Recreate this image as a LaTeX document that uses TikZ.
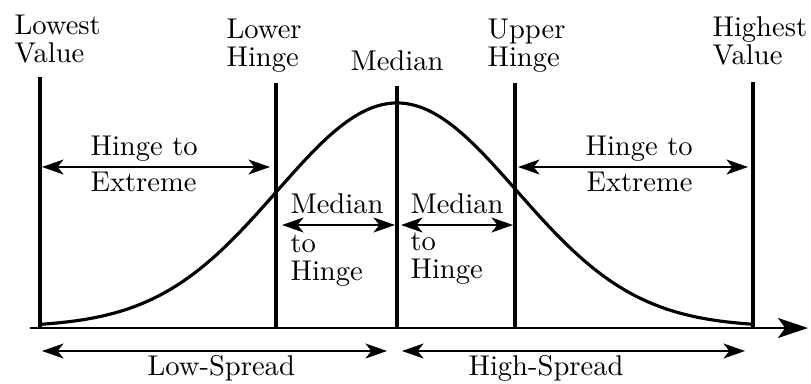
\documentclass[tikz,border=0pt]{standalone}
\usetikzlibrary{arrows.meta}
\begin{document}
\begin{tikzpicture}[x=0.35pt,y=-0.35pt,
  vline/.style={line width=1.1pt},
  curve/.style={line width=1.1pt},
  axisline/.style={line width=1.0pt,-{Stealth[length=10.5pt,width=7pt,inset=2.5pt]}},
  span/.style={line width=0.85pt,{Stealth[length=7.5pt,width=5.2pt,inset=2pt]}-{Stealth[length=7.5pt,width=5.2pt,inset=2pt]}},
  lbl/.style={inner sep=0pt,anchor=base west,align=left,font=\fontsize{10}{9.8}\selectfont}]
\useasboundingbox (0,0) rectangle (811,383);
% axis
\coordinate (axL) at (30,328);
\coordinate (axR) at (808,328);
\draw[axisline] (axL) -- (axR);
% vertical lines
\coordinate (lowT) at (40,77);   \coordinate (lowB) at (40,328);
\coordinate (lhT) at (276,83);   \coordinate (lhB) at (276,328);
\coordinate (medT) at (397,86);  \coordinate (medB) at (397,328);
\coordinate (uhT) at (515,83);   \coordinate (uhB) at (515,328);
\coordinate (highT) at (753,82); \coordinate (highB) at (753,328);
\draw[vline] (lowT) -- (lowB);
\draw[vline] (lhT) -- (lhB);
\draw[vline] (medT) -- (medB);
\draw[vline] (uhT) -- (uhB);
\draw[vline] (highT) -- (highB);
% bell curve
\draw[curve] plot[domain=40:753,samples=150,smooth] (\x,{327-224*exp(-0.5*((\x-397)/120)^2)});
% top labels (anchor at baseline of the last line)
\node[lbl] (lowest) at (14,63) {Lowest\\Value};
\node[lbl] (lower) at (226,67) {Lower\\Hinge};
\node[lbl] (median) at (350,71) {Median};
\node[lbl] (upper) at (487,67) {Upper\\Hinge};
\node[lbl] (highest) at (712,65) {Highest\\Value};
% hinge to extreme
\coordinate (heLa) at (42,167);  \coordinate (heLb) at (270,167);
\coordinate (heRa) at (518,167); \coordinate (heRb) at (748,167);
\draw[span] (heLa) -- (heLb);
\draw[span] (heRa) -- (heRb);
\node[lbl] (heL1) at (90,156) {Hinge to};
\node[lbl] (heL2) at (90,192) {Extreme};
\node[lbl] (heR1) at (585,156) {Hinge to};
\node[lbl] (heR2) at (586,192) {Extreme};
% median to hinge
\coordinate (mhLa) at (282,225); \coordinate (mhLb) at (395,225);
\coordinate (mhRa) at (401,225); \coordinate (mhRb) at (513,225);
\draw[span] (mhLa) -- (mhLb);
\draw[span] (mhRa) -- (mhRb);
\node[lbl] (mhL1) at (290,213) {Median};
\node[lbl] (mhL2) at (290,280) {to\\Hinge};
\node[lbl] (mhR1) at (410,213) {Median};
\node[lbl] (mhR2) at (410,278) {to\\Hinge};
% spreads
\coordinate (lsa) at (42,351);  \coordinate (lsb) at (387,351);
\coordinate (hsa) at (402,351); \coordinate (hsb) at (745,351);
\draw[span] (lsa) -- (lsb);
\draw[span] (hsa) -- (hsb);
\node[lbl] (lowspread) at (147,375) {Low-Spread};
\node[lbl] (highspread) at (468,375) {High-Spread};
\end{tikzpicture}
\end{document}
